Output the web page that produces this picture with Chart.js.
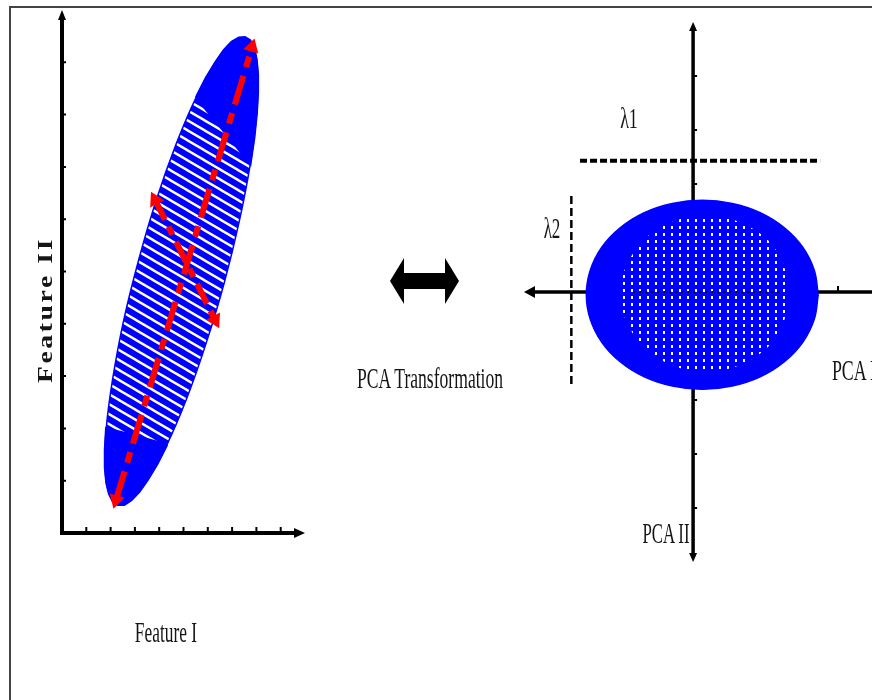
<!DOCTYPE html>
<html>
<head>
<meta charset="utf-8">
<script src="https://cdn.jsdelivr.net/npm/chart.js@4.4.1/dist/chart.umd.min.js"></script>
<style>
  html, body { margin: 0; padding: 0; background: #fff; }
  body { width: 872px; height: 700px; overflow: hidden; position: relative; }
  #frame { position: absolute; left: 9px; top: 6px; width: 900px; height: 760px;
           border-top: 2px solid #444; border-left: 2px solid #444; }
  canvas { position: absolute; }
  .lbl { position: absolute; font-family: "Liberation Serif", "DejaVu Serif", serif;
         font-size: 30px; line-height: 1; color: #151515; white-space: nowrap; }
  #featureII { font-size: 21px; font-weight: bold; letter-spacing: 2px; }
  svg { position: absolute; left: 0; top: 0; }
</style>
</head>
<body>
<div id="frame"></div>
<canvas id="left" width="330" height="560" style="left:0;top:0"></canvas>
<canvas id="right" width="420" height="600" style="left:500px;top:0"></canvas>
<svg width="872" height="700">
  <polygon points="390,281 404,258 404,273 445,273 445,258 459,281 445,304 445,289 404,289 404,304" fill="#000"/>
</svg>
<div class="lbl" id="featureI">Feature I</div>
<div class="lbl" id="featureII">Feature II</div>
<div class="lbl" id="transform">PCA Transformation</div>
<div class="lbl" id="pca1">PCA I</div>
<div class="lbl" id="pca2">PCA II</div>
<div class="lbl" id="lam1">λ1</div>
<div class="lbl" id="lam2">λ2</div>
<script>
// left panel, Feature I / Feature II (axis units 0..10)
const featureTicks = [1, 2, 3, 4, 5, 6, 7, 8, 9];
const cloudOutline = [
  {x:7.53,y:9.48},{x:7.90,y:9.27},{x:8.06,y:8.77},{x:8.01,y:8.02},{x:7.75,y:7.06},
  {x:7.29,y:5.95},{x:6.68,y:4.79},{x:5.94,y:3.64},{x:5.14,y:2.58},{x:4.32,y:1.69},
  {x:3.53,y:1.02},{x:2.85,y:0.63},{x:2.30,y:0.54},{x:1.94,y:0.75},{x:1.77,y:1.25},
  {x:1.82,y:2.00},{x:2.09,y:2.96},{x:2.54,y:4.07},{x:3.16,y:5.23},{x:3.89,y:6.38},
  {x:4.70,y:7.44},{x:5.52,y:8.33},{x:6.30,y:8.99},{x:6.98,y:9.39},{x:7.53,y:9.48}
];
const cloudTopCap = [
  {x:5.52,y:8.33},{x:5.92,y:8.70},{x:6.30,y:8.99},{x:6.66,y:9.23},{x:6.98,y:9.39},
  {x:7.28,y:9.47},{x:7.53,y:9.48},{x:7.74,y:9.42},{x:7.90,y:9.27},{x:8.00,y:9.06},
  {x:8.06,y:8.77},{x:8.06,y:8.42},{x:8.01,y:8.02},{x:7.91,y:7.56},{x:7.75,y:7.06},
  {x:6.63,y:7.70},{x:5.52,y:8.33}
];
const cloudBottomCap = [
  {x:4.32,y:1.69},{x:3.92,y:1.32},{x:3.53,y:1.02},{x:3.18,y:0.79},{x:2.85,y:0.63},
  {x:2.56,y:0.54},{x:2.30,y:0.54},{x:2.10,y:0.60},{x:1.94,y:0.75},{x:1.83,y:0.96},
  {x:1.77,y:1.25},{x:1.77,y:1.59},{x:1.82,y:2.00},{x:3.07,y:1.85},{x:4.32,y:1.69}
];
const majorArrow = [{x:2.22,y:0.63},{x:7.82,y:9.29}];
const majorHeads = [196, 16];
const minorArrow = [{x:3.83,y:6.37},{x:6.30,y:4.07}];
const minorHeads = [333, 153];

// right panel, PCA I / PCA II
const pcaTicksY = [-4, -3, -2, 2, 3, 4];
const pcaTicksX = [3];
const pcaOutline = [
  {x:2.59,y:-0.05},{x:2.51,y:0.40},{x:2.27,y:0.83},{x:1.89,y:1.19},{x:1.39,y:1.47},
  {x:0.81,y:1.64},{x:0.19,y:1.70},{x:-0.43,y:1.64},{x:-1.01,y:1.47},{x:-1.51,y:1.19},
  {x:-1.89,y:0.83},{x:-2.13,y:0.40},{x:-2.21,y:-0.05},{x:-2.13,y:-0.50},{x:-1.89,y:-0.93},
  {x:-1.51,y:-1.29},{x:-1.01,y:-1.57},{x:-0.43,y:-1.74},{x:0.19,y:-1.80},{x:0.81,y:-1.74},
  {x:1.39,y:-1.57},{x:1.89,y:-1.29},{x:2.27,y:-0.93},{x:2.51,y:-0.50},{x:2.59,y:-0.05}
];
const pcaCore = [
  {x:2.03,y:-0.03},{x:1.79,y:0.70},{x:1.15,y:1.23},{x:0.26,y:1.42},{x:-0.63,y:1.23},
  {x:-1.27,y:0.70},{x:-1.51,y:-0.03},{x:-1.27,y:-0.76},{x:-0.63,y:-1.29},{x:0.26,y:-1.48},
  {x:1.15,y:-1.29},{x:1.79,y:-0.76},{x:2.03,y:-0.03}
];
const lambda1Line = [{x:-2.34,y:2.43},{x:2.63,y:2.43}];
const lambda2Line = [{x:-2.52,y:1.78},{x:-2.52,y:-1.72}];
const meanLine = [{x:-1.24,y:0},{x:1.86,y:0}];

const blue = '#0000ff';
const red = '#ff0000';

function makePattern(w, h, paint) {
  const c = document.createElement('canvas');
  c.width = w; c.height = h;
  const g = c.getContext('2d');
  g.fillStyle = blue;
  g.fillRect(0, 0, w, h);
  paint(g);
  return g.createPattern(c, 'repeat');
}

const stripes = makePattern(17, 10, g => {
  g.strokeStyle = '#fff';
  g.lineWidth = 2.4;
  g.beginPath();
  [-10, 0, 10].forEach(off => { g.moveTo(-17, off - 10); g.lineTo(34, off + 20); });
  g.stroke();
});
const specks = makePattern(8, 7, g => {
  g.fillStyle = '#fff';
  g.fillRect(3, 2, 2, 3);
});

function shape(data, fill, order, tension, border) {
  return { data, showLine: true, fill: 'shape', backgroundColor: fill, borderColor: blue,
           borderWidth: border || 1.5, tension: tension === undefined ? 0.4 : tension,
           pointRadius: 0, order };
}
function dashed(data, color, width, dash, order, heads) {
  return { data, showLine: true, fill: false, borderColor: color, borderWidth: width,
           borderDash: dash, tension: 0, order,
           pointRadius: heads ? 9 : 0, pointStyle: 'triangle', pointRotation: heads || 0,
           pointBackgroundColor: color, pointBorderColor: color, pointBorderWidth: 0 };
}

function arrowHead(ctx, x, y, dx, dy, len, half) {
  const px = -dy, py = dx;
  ctx.beginPath();
  ctx.moveTo(x, y);
  ctx.lineTo(x - dx * len + px * half, y - dy * len + py * half);
  ctx.lineTo(x - dx * len - px * half, y - dy * len - py * half);
  ctx.closePath();
  ctx.fill();
}

const featureAxes = {
  id: 'featureAxes',
  beforeDatasetsDraw(chart) {
    const { ctx, scales: { x, y } } = chart;
    const x0 = x.getPixelForValue(0), y0 = y.getPixelForValue(0);
    const xEnd = x.getPixelForValue(10), yEnd = y.getPixelForValue(10);
    ctx.save();
    ctx.strokeStyle = '#000';
    ctx.fillStyle = '#000';
    ctx.lineWidth = 4;
    ctx.beginPath();
    ctx.moveTo(x0, y0 + 2); ctx.lineTo(x0, yEnd + 6);
    ctx.moveTo(x0 - 2, y0); ctx.lineTo(xEnd - 6, y0);
    ctx.stroke();
    arrowHead(ctx, x0, yEnd, 0, -1, 10, 4);
    arrowHead(ctx, xEnd, y0, 1, 0, 11, 5);
    ctx.lineWidth = 2;
    ctx.beginPath();
    featureTicks.forEach(t => {
      const px = x.getPixelForValue(t);
      ctx.moveTo(px, y0); ctx.lineTo(px, y0 - 6);
      const py = y.getPixelForValue(t);
      ctx.moveTo(x0, py); ctx.lineTo(x0 + 4, py);
    });
    ctx.stroke();
    ctx.restore();
  }
};

const pcaAxes = {
  id: 'pcaAxes',
  beforeDatasetsDraw(chart) {
    const { ctx, scales: { x, y } } = chart;
    const x0 = x.getPixelForValue(0), y0 = y.getPixelForValue(0);
    const top = y.getPixelForValue(5), bottom = y.getPixelForValue(-5);
    const left = x.getPixelForValue(-3.5), right = x.getPixelForValue(4.2);
    ctx.save();
    ctx.strokeStyle = '#000';
    ctx.fillStyle = '#000';
    ctx.lineWidth = 3.5;
    ctx.beginPath();
    ctx.moveTo(x0, top + 6); ctx.lineTo(x0, bottom - 6);
    ctx.moveTo(left + 8, y0); ctx.lineTo(right, y0);
    ctx.stroke();
    arrowHead(ctx, x0, top, 0, -1, 9, 4);
    arrowHead(ctx, x0, bottom, 0, 1, 9, 4);
    arrowHead(ctx, left, y0, -1, 0, 11, 6);
    ctx.lineWidth = 2;
    ctx.beginPath();
    pcaTicksY.forEach(t => {
      const py = y.getPixelForValue(t);
      ctx.moveTo(x0, py); ctx.lineTo(x0 + 4, py);
    });
    pcaTicksX.forEach(t => {
      const px = x.getPixelForValue(t);
      ctx.moveTo(px, y0); ctx.lineTo(px, y0 - 6);
    });
    ctx.stroke();
    ctx.restore();
  }
};

function baseOptions(padding, xr, yr) {
  return {
    responsive: false,
    animation: false,
    events: [],
    layout: { padding },
    plugins: { legend: { display: false }, tooltip: { enabled: false } },
    scales: {
      x: { type: 'linear', min: xr[0], max: xr[1], display: false },
      y: { type: 'linear', min: yr[0], max: yr[1], display: false }
    }
  };
}

new Chart(document.getElementById('left'), {
  type: 'scatter',
  data: {
    datasets: [
      shape(cloudOutline, stripes, 5),
      shape(cloudTopCap, blue, 4, 0, 2.5),
      shape(cloudBottomCap, blue, 4, 0, 2.5),
      dashed(majorArrow, red, 6, [30, 9, 11, 9], 1, majorHeads),
      dashed(minorArrow, red, 6, [22, 8, 9, 8], 1, minorHeads)
    ]
  },
  options: baseOptions({ left: 62, right: 25, top: 10, bottom: 27 }, [0, 10], [0, 10]),
  plugins: [featureAxes]
});

new Chart(document.getElementById('right'), {
  type: 'scatter',
  data: {
    datasets: [
      shape(pcaOutline, blue, 5),
      shape(pcaCore, specks, 4),
      dashed(meanLine, '#000', 2, [2, 4], 3),
      dashed(lambda1Line, '#000', 4, [7, 3], 1),
      dashed(lambda2Line, '#000', 2.5, [8, 4], 1)
    ]
  },
  options: baseOptions({ left: 24, right: 24, top: 22, bottom: 38 }, [-3.5, 4.2], [-5, 5]),
  plugins: [pcaAxes]
});

function placeLabel(id, cx, cy, width, rotate) {
  const el = document.getElementById(id);
  const sx = width / el.offsetWidth;
  el.style.left = cx + 'px';
  el.style.top = cy + 'px';
  el.style.transform = 'translate(-50%, -50%)' + (rotate ? ' rotate(-90deg)' : '') + ' scaleX(' + sx + ')';
}
placeLabel('featureI', 166, 632, 62);
placeLabel('featureII', 45, 310, 146, true);
placeLabel('transform', 430, 378, 146);
placeLabel('pca2', 666, 533, 47);
placeLabel('pca1', 854, 370, 44);
placeLabel('lam1', 629, 118, 18);
placeLabel('lam2', 552, 228, 17);
</script>
</body>
</html>
